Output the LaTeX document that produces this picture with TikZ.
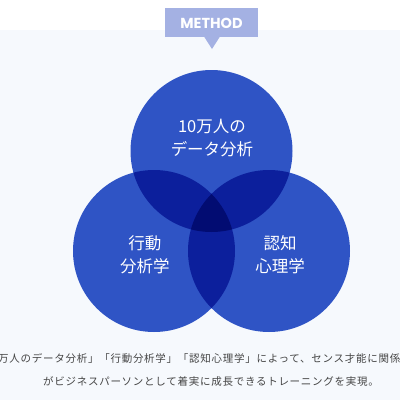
\documentclass[tikz,border=0pt]{standalone}
\usepackage{fontspec}
\newfontfamily\jp{Noto Sans CJK JP}
\newfontfamily\jpsp[LetterSpace=7]{Noto Sans CJK JP}
\newfontfamily\meth{Poppins}
\definecolor{bgc}{HTML}{F6F9FD}
\definecolor{tabc}{HTML}{A4B1E3}
\definecolor{c1}{HTML}{2F54C5}
\definecolor{c2}{HTML}{0C1F9C}
\definecolor{c3}{HTML}{020C72}
\definecolor{txt}{HTML}{454545}
\tikzset{
  lbl/.style={text=white, align=center, font=\jp\fontsize{16.5}{23}\selectfont, inner sep=0pt},
  captext/.style={text=txt, font=\jpsp\fontsize{10.5}{12}\selectfont, inner sep=0pt},
}
\begin{document}
\begin{tikzpicture}[x=1pt,y=-1pt]
\useasboundingbox (0,0) rectangle (400,400);
\fill[white] (0,0) rectangle (400,30);
\fill[bgc] (0,30) rectangle (400,400);
% tab
\fill[tabc] (165,8) rectangle (258,37);
\fill[tabc] (204,36.5) -- (220,36.5) -- (212,49) -- cycle;
\node[text=white, font=\meth\bfseries\fontsize{14.5}{15}\selectfont, inner sep=0pt] (method) at (211.5,23) {METHOD};
% circles
\def\rr{81}
\coordinate (T) at (211.5,151);
\coordinate (L) at (154,251);
\coordinate (R) at (269,251);
\fill[c1] (T) circle (\rr);
\fill[c1] (L) circle (\rr);
\fill[c1] (R) circle (\rr);
\begin{scope}
  \clip (T) circle (\rr);
  \fill[c2] (L) circle (\rr);
  \fill[c2] (R) circle (\rr);
\end{scope}
\begin{scope}
  \clip (L) circle (\rr);
  \fill[c2] (R) circle (\rr);
\end{scope}
\begin{scope}
  \clip (T) circle (\rr);
  \clip (L) circle (\rr);
  \fill[c3] (R) circle (\rr);
\end{scope}
\node[lbl] (t1) at (212,138) {10万人の\\データ分析};
\node[lbl] (t2) at (145,254.5) {行動\\分析学};
\node[lbl] (t3) at (280,254.5) {認知\\心理学};
% caption
\node[captext, anchor=west] (cap1) at (-2,358) {万人のデータ分析」「行動分析学」「認知心理学」によって、センス才能に関係};
\node[captext] (cap2) at (211,382) {がビジネスパーソンとして着実に成長できるトレーニングを実現。};
\end{tikzpicture}
\end{document}
